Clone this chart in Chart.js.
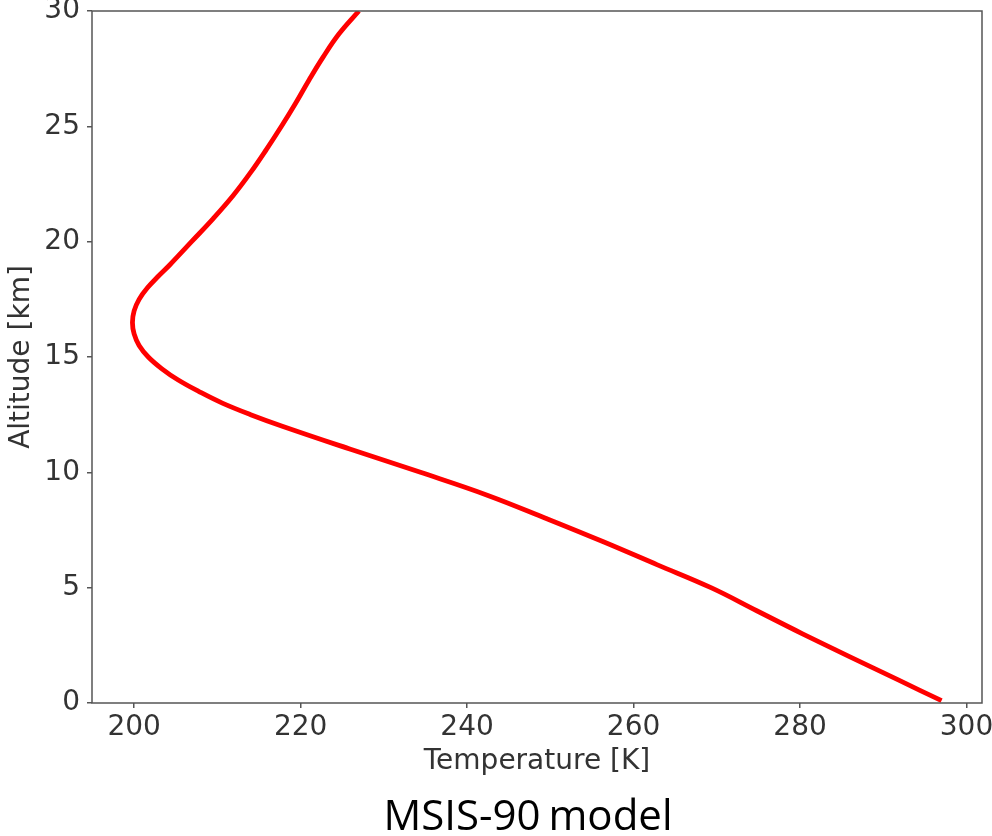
<!DOCTYPE html>
<html>
<head>
<meta charset="utf-8">
<script src="https://cdn.jsdelivr.net/npm/chart.js@4/dist/chart.umd.min.js"></script>
<style>
  html, body { margin: 0; padding: 0; background: #fff; }
  #wrap { position: relative; width: 992px; height: 836px; overflow: hidden; }
  #plot { position: absolute; left: 0; top: 0; }
  #caption {
    position: absolute; left: 528px; top: 793px; transform: translateX(-50%);
    font-family: "Open Sans", sans-serif; font-size: 42px; line-height: 42px;
    color: #000; white-space: nowrap; word-spacing: -3px;
  }
</style>
</head>
<body>
<div id="wrap">
  <canvas id="plot" width="992" height="836"></canvas>
  <div id="caption">MSIS-90 model</div>
</div>
<script>
// Temperature profile of the lower atmosphere (MSIS-90)
const altitudeKm = [0.1, 1, 2, 3, 4, 5, 6, 7, 8, 9, 10, 11, 12, 12.5, 13, 13.5, 14, 14.5,
  15, 15.5, 16, 16.5, 17, 17.5, 18, 18.5, 19, 20, 21, 22, 23, 24, 25, 26, 27, 28, 29, 30];
const temperatureK = [297.0, 291.8, 286.0, 280.3, 274.8, 269.3, 262.8, 256.3, 249.5, 242.5,
  234.4, 226.0, 217.8, 214.0, 210.6, 207.8, 205.3, 203.3, 201.7, 200.6, 200.0, 199.8, 200.0,
  200.6, 201.6, 202.9, 204.3, 206.9, 209.5, 211.9, 214.0, 215.9, 217.7, 219.4, 221.0, 222.7,
  224.6, 227.0];

const xTickValues = [200, 220, 240, 260, 280, 300];
const yTickValues = [0, 5, 10, 15, 20, 25, 30];

// x limits: data range padded by 5% on each side; y limited to 0–30 km
const tMin = Math.min(...temperatureK), tMax = Math.max(...temperatureK);
const xPad = 0.05 * (tMax - tMin);

const points = altitudeKm.map((a, i) => ({ x: temperatureK[i], y: a }));

const axisColor = '#555';
const textColor = '#333';
const labelFont = { family: 'DejaVu Sans', size: 28 };

// Box round the plotting area
const frame = {
  id: 'frame',
  afterDatasetsDraw(chart) {
    const { ctx, chartArea: a } = chart;
    ctx.save();
    ctx.strokeStyle = axisColor;
    ctx.lineWidth = 1.5;
    ctx.strokeRect(a.left, a.top, a.right - a.left, a.bottom - a.top);
    ctx.restore();
  }
};

new Chart(document.getElementById('plot'), {
  type: 'scatter',
  data: {
    datasets: [{
      data: points,
      showLine: true,
      borderColor: '#ff0000',
      borderWidth: 4.8,
      pointRadius: 0,
      tension: 0.4,
      fill: false
    }]
  },
  options: {
    responsive: false,
    animation: false,
    events: [],
    layout: { padding: { top: 11, right: 10, left: 0, bottom: 0 } },
    plugins: { legend: { display: false }, tooltip: { enabled: false } },
    scales: {
      x: {
        type: 'linear',
        min: tMin - xPad,
        max: tMax + xPad,
        afterBuildTicks: s => { s.ticks = xTickValues.map(v => ({ value: v })); },
        afterFit: s => { s.height = 133; s.paddingLeft = 0; s.paddingRight = 0; },
        ticks: { font: labelFont, color: textColor, padding: 3, maxRotation: 0, autoSkip: false },
        grid: { drawOnChartArea: false, tickLength: 5, color: axisColor, lineWidth: 1.5 },
        border: { display: false },
        title: { display: true, text: 'Temperature [K]', font: labelFont, color: textColor,
                 padding: { top: 0, bottom: 57 } }
      },
      y: {
        type: 'linear',
        min: 0,
        max: 30,
        afterBuildTicks: s => { s.ticks = yTickValues.map(v => ({ value: v })); },
        afterFit: s => { s.width = 92; s.paddingTop = 0; s.paddingBottom = 0; },
        ticks: { font: labelFont, color: textColor, padding: 7, autoSkip: false },
        grid: { drawOnChartArea: false, tickLength: 5, color: axisColor, lineWidth: 1.5 },
        border: { display: false },
        title: { display: true, text: 'Altitude [km]', font: labelFont, color: textColor,
                 padding: { top: 5, bottom: 0 } }
      }
    }
  },
  plugins: [frame]
});
</script>
</body>
</html>
